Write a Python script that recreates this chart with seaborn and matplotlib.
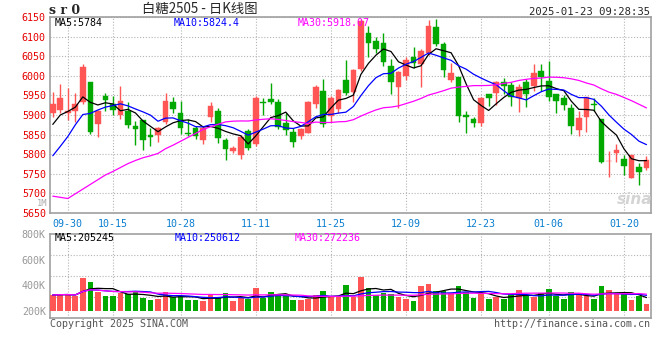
import numpy as np
import pandas as pd
import seaborn as sns
import matplotlib
matplotlib.use("Agg")
import matplotlib.pyplot as plt

# daily bars of sugar 2505, 2024-09-26 .. 2025-01-23
opens = [5906, 5912, 5904, 5911, 5934, 5983, 5878, 5949, 5929, 5900,
         5911, 5873, 5886, 5850, 5848, 5883, 5933, 5905, 5854, 5868,
         5836, 5895, 5909, 5836, 5808, 5798, 5858, 5825, 5932, 5940,
         5932, 5879, 5857, 5846, 5855, 5928, 5962, 5898, 5915, 5989,
         5958, 6017, 6109, 6088, 6083, 6026, 5972, 6000, 6049, 6029,
         6058, 6124, 6082, 5990, 5996, 5899, 5890, 5879, 5953, 5955,
         5983, 5977, 5943, 5983, 5975, 6011, 5988, 5953, 5943, 5919,
         5861, 5895, 5928, 5889, 5782, 5804, 5789, 5740, 5768, 5764]
highs = [5958, 5979, 5968, 5956, 6030, 5983, 5912, 5956, 5949, 5975,
         5934, 5884, 5886, 5866, 5870, 5957, 5947, 5935, 5889, 5872,
         5872, 5932, 5919, 5842, 5821, 5849, 5864, 5949, 5943, 5981,
         5940, 5904, 5868, 5868, 5936, 5977, 5992, 5949, 5966, 6041,
         6017, 6146, 6127, 6100, 6109, 6043, 6011, 6049, 6073, 6069,
         6143, 6146, 6086, 6032, 5996, 5909, 5894, 5945, 5953, 5987,
         5994, 5983, 5979, 5992, 6030, 6030, 6039, 5953, 5952, 5929,
         5911, 5947, 5943, 5889, 5808, 5825, 5799, 5799, 5778, 5795]
lows = [5895, 5906, 5888, 5882, 5928, 5851, 5843, 5911, 5900, 5889,
        5868, 5823, 5810, 5821, 5831, 5878, 5905, 5851, 5846, 5840,
        5827, 5883, 5829, 5785, 5804, 5789, 5810, 5820, 5900, 5928,
        5864, 5849, 5818, 5839, 5853, 5918, 5870, 5881, 5905, 5950,
        5934, 6012, 6049, 6058, 6026, 5953, 5917, 5989, 6020, 5971,
        6052, 6075, 5996, 5984, 5883, 5854, 5870, 5872, 5923, 5925,
        5953, 5924, 5908, 5921, 5962, 5960, 5935, 5904, 5913, 5852,
        5846, 5857, 5911, 5778, 5742, 5781, 5748, 5740, 5721, 5760]
closes = [5927, 5943, 5911, 5928, 6022, 5857, 5910, 5939, 5913, 5935,
          5875, 5864, 5837, 5844, 5867, 5936, 5916, 5866, 5852, 5846,
          5868, 5922, 5842, 5812, 5815, 5845, 5817, 5943, 5930, 5932,
          5870, 5862, 5831, 5864, 5934, 5972, 5876, 5943, 5964, 5956,
          6015, 6140, 6083, 6069, 6035, 5983, 6009, 6041, 6032, 6063,
          6127, 6082, 6016, 6006, 5898, 5895, 5879, 5943, 5943, 5983,
          5975, 5945, 5971, 5953, 6006, 5996, 5947, 5935, 5926, 5872,
          5892, 5945, 5926, 5780, 5783, 5810, 5770, 5799, 5755, 5784]
# volume in thousands, read against the panel's own axis labels
volumes = [323, 328, 328, 315, 458, 427, 349, 315, 315, 336,
           328, 354, 302, 283, 291, 346, 310, 317, 283, 283,
           278, 328, 310, 338, 278, 296, 289, 377, 296, 346,
           330, 315, 283, 283, 291, 323, 354, 304, 304, 401,
           304, 466, 375, 323, 341, 330, 310, 291, 276, 393,
           409, 354, 354, 336, 393, 349, 302, 330, 291, 304,
           291, 328, 362, 315, 304, 336, 370, 315, 291, 346,
           323, 317, 291, 393, 362, 336, 328, 283, 315, 252]
# closes of the 29 sessions before the window, only used to start the MA lines
prior_close = [6033, 6001, 5568, 5662, 5497, 5550, 5579, 5643, 5635, 5575,
               5624, 5627, 5694, 5687, 5576, 5646, 5566, 5552, 5546, 5568,
               5703, 5661, 5628, 5760, 5828, 5823, 5866, 5873, 5891]

tick_labels = ["09-30", "10-15", "10-28", "11-11", "11-25",
               "12-09", "12-23", "01-06", "01-20"]
vol_ticks = [200, 400, 600, 800]
vol_header = ["MA5:205245", "MA10:250612", "MA30:272236"]

RED = "#ff5555"
GREEN = "#00a800"
GRID = "#b4b4b4"
EDGE = "#a0a0a0"
MONO = ["DejaVu Sans Mono", "Noto Sans CJK SC"]

sns.set_style("white")
plt.rcParams["font.family"] = MONO

days = pd.bdate_range("2024-09-26", "2025-01-23")
off = pd.date_range("2024-10-01", "2024-10-07").append(pd.DatetimeIndex(["2025-01-01"]))
days = days[~days.isin(off)]

df = pd.DataFrame({"open": opens, "high": highs, "low": lows,
                   "close": closes, "vol": volumes}, index=days)
df["x"] = np.arange(len(df))
df["up"] = df["close"] >= df["open"]
df["color"] = np.where(df["up"], RED, GREEN)

full = pd.Series(prior_close + closes)
for w in (5, 10, 30):
    df[f"ma{w}"] = full.rolling(w).mean().iloc[len(prior_close):].values
    df[f"vma{w}"] = df["vol"].rolling(w, min_periods=1).mean()

tick_pos = [df["x"].iloc[list(df.index.strftime("%m-%d")).index(t)] for t in tick_labels]

W, H = 660, 360
fig = plt.figure(figsize=(W / 100, H / 100), dpi=100)
ax = fig.add_axes([50 / W, 1 - 213 / H, 601 / W, 196 / H])
axv = fig.add_axes([50 / W, 1 - 318 / H, 601 / W, 84 / H])

xlim = (-0.37, 79.6)
grid_kw = dict(color=GRID, lw=0.8, ls=(0, (1, 1.6)))

# price panel
body_lo = df[["open", "close"]].min(axis=1)
body_h = (df["close"] - df["open"]).abs().clip(lower=1.5)
ax.vlines(df["x"], df["low"], df["high"], colors=df["color"], lw=1, zorder=2)
ax.bar(df["x"], body_h, bottom=body_lo, width=0.76, color=df["color"],
       edgecolor=df["color"], lw=0.3, zorder=3)
for col, c in (("ma5", "black"), ("ma10", "#0000ff"), ("ma30", "#ff00ff")):
    sns.lineplot(x=df["x"], y=df[col], ax=ax, color=c, lw=0.9, zorder=4)

ax.set_xlim(*xlim)
ax.set_ylim(5650, 6150)
ax.set_yticks(range(5650, 6151, 50))
ax.set_xticks(tick_pos)
ax.set_xticklabels(tick_labels)
ax.tick_params(axis="y", length=0, pad=3, labelsize=7.2, labelcolor="#e60000")
ax.tick_params(axis="x", length=0, pad=4, labelsize=7.2, labelcolor="#0a7fd0")
ax.grid(True, **grid_kw)
ax.set_axisbelow(True)
ax.set_xlabel("")
ax.set_ylabel("")

# volume panel
vol_base = vol_ticks[0]
axv.bar(df["x"], df["vol"] - vol_base, bottom=vol_base, width=0.76,
        color=df["color"], lw=0, zorder=3)
for col, c in (("vma5", "black"), ("vma10", "#0000ff"), ("vma30", "#ff00ff")):
    sns.lineplot(x=df["x"], y=df[col], ax=axv, color=c, lw=0.9, zorder=4)
vlo, vhi = 143, 800
axv.set_xlim(*xlim)
axv.set_ylim(vlo, vhi)
axv.set_yticks(vol_ticks)
axv.set_yticklabels([f"{v}K" for v in vol_ticks])
axv.set_yticks(np.linspace(vlo, vhi, 5)[1:-1], minor=True)
axv.set_xticks(tick_pos)
axv.tick_params(axis="x", length=0, labelbottom=False)
axv.tick_params(axis="y", which="both", length=0, pad=3, labelsize=7.2,
                labelcolor="#999999")
axv.grid(False)
axv.grid(True, axis="x", **grid_kw)
axv.grid(True, axis="y", which="minor", **grid_kw)
axv.set_axisbelow(True)
axv.set_xlabel("")
axv.set_ylabel("")

for a in (ax, axv):
    for s in a.spines.values():
        s.set_color(EDGE)
        s.set_linewidth(1.2)


def ftext(x, y, s, **kw):
    kw.setdefault("fontsize", 7.2)
    kw.setdefault("va", "center")
    fig.text(x / W, 1 - y / H, s, **kw)


last = df.iloc[-1]
ftext(55, 23, f"MA5:{last['ma5']:.0f}", color="black")
ftext(174, 23, f"MA10:{last['ma10']:.1f}", color="#0000ff")
ftext(298, 23, f"MA30:{last['ma30']:.2f}", color="#ff00ff")
ftext(55, 238, vol_header[0], color="black")
ftext(175, 238, vol_header[1], color="#0000ff")
ftext(295, 238, vol_header[2], color="#ff00ff")

ftext(49, 11, "s r 0", fontsize=9, fontweight="bold", family="DejaVu Serif")
ftext(200, 9, "白糖2505 - 日K线图", fontsize=9.6, ha="center",
      family=["Noto Sans CJK SC", "DejaVu Sans"])
ftext(650, 12, "2025-01-23 09:28:35", fontsize=7.6, ha="right")
ftext(47, 203, "1M", ha="right", color="#aaaaaa", fontsize=6.3)
ftext(50, 324, "Copyright 2025 SINA.COM", color="#555555")
ftext(650, 324, "http://finance.sina.com.cn", ha="right", color="#555555")
ftext(635, 200, "sina", fontsize=11, ha="center", color="#d4d4d4",
      fontweight="bold", style="italic", family="DejaVu Sans")

fig.savefig("out.png", dpi=100)
